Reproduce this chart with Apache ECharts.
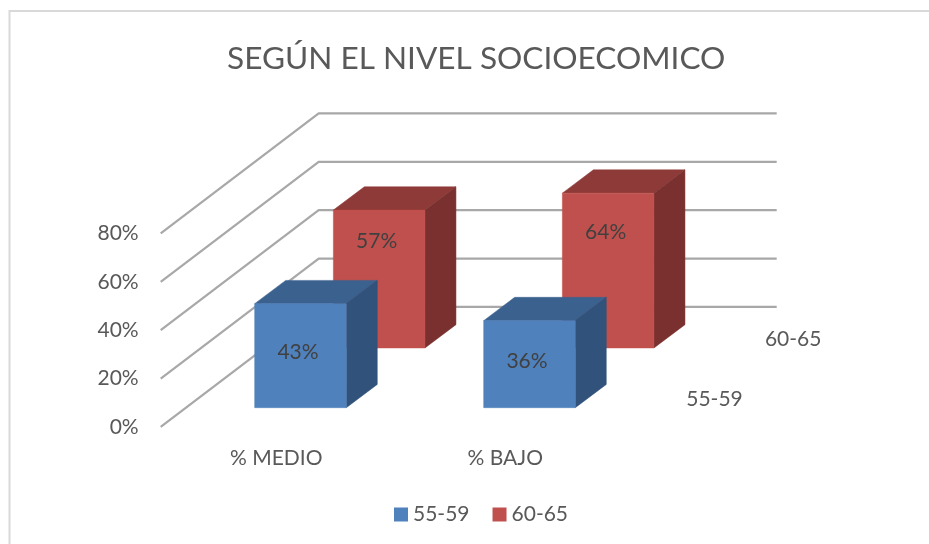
<!DOCTYPE html>
<html>
<head>
<meta charset="utf-8">
<style>html,body{margin:0;padding:0;background:#fff}#c{width:929px;height:544px}</style>
<script src="https://cdn.jsdelivr.net/npm/echarts@6/dist/echarts.min.js"></script>
</head>
<body>
<div id="c"></div>
<script>
const categories = ['% MEDIO', '% BAJO'];
const seriesNames = ['55-59', '60-65'];
const values5559 = [43, 36];
const values6065 = [57, 64];
const yTicks = [0, 20, 40, 60, 80];

const FONT = 'Lato, "Open Sans", sans-serif';
const TEXT = '#595959';
const WALL = { dx: 158, dy: -120 };           // projection of the full depth axis
const BAR_DEPTH = { dx: 31, dy: -23.3 };
const BAR_BAND = 0.4;
const PALETTE = [
  { front: '#4F81BD', top: '#3B618F', side: '#31527A' },
  { front: '#C0504D', top: '#8E3A38', side: '#7A302E' }
];
const ROW = [0.16, 0.658];       // position along depth axis
const LABEL_LIFT = [3, 38];
const DEPTH_LABEL_SHIFT = [-8, -9];

function poly(points, fill) {
  return { type: 'polygon', shape: { points }, style: { fill, stroke: fill, lineWidth: 0.5 } };
}

function barRenderer(row) {
  return function (params, api) {
    const value = api.value(1);
    const base = api.coord([api.value(0), 0]);
    const head = api.coord([api.value(0), value]);
    const w = api.size([1, 0])[0] * BAR_BAND;
    const ox = ROW[row] * WALL.dx, oy = ROW[row] * WALL.dy;
    const x0 = base[0] + ox - w / 2, x1 = x0 + w;
    const y0 = base[1] + oy, y1 = head[1] + oy;
    const d = BAR_DEPTH, c = PALETTE[row];
    return {
      type: 'group',
      children: [
        poly([[x0, y1], [x1, y1], [x1 + d.dx, y1 + d.dy], [x0 + d.dx, y1 + d.dy]], c.top),
        poly([[x1, y1], [x1 + d.dx, y1 + d.dy], [x1 + d.dx, y0 + d.dy], [x1, y0]], c.side),
        poly([[x0, y1], [x1, y1], [x1, y0], [x0, y0]], c.front),
        {
          type: 'text',
          style: {
            x: (x0 + x1) / 2 - 2.5, y: (y0 + y1) / 2 - LABEL_LIFT[row],
            text: value + '%', align: 'center', verticalAlign: 'middle',
            fill: '#404040', font: '21px ' + FONT
          }
        }
      ]
    };
  };
}

function wallRenderer(params, api) {
  const y = api.coord([0, api.value(1)])[1];
  const cs = params.coordSys;
  return {
    type: 'polyline',
    shape: { points: [[cs.x, y], [cs.x + WALL.dx, y + WALL.dy], [cs.x + cs.width + WALL.dx, y + WALL.dy]] },
    style: { stroke: '#A8A8A8', lineWidth: 2.2, fill: 'none' }
  };
}

function depthLabelRenderer(params, api) {
  const i = params.dataIndex;
  const cs = params.coordSys;
  const frac = ROW[i];
  return {
    type: 'text',
    style: {
      x: cs.x + cs.width + frac * WALL.dx + 70.5,
      y: cs.y + cs.height + frac * WALL.dy + DEPTH_LABEL_SHIFT[i],
      text: seriesNames[i], align: 'center', verticalAlign: 'middle',
      fill: TEXT, font: '21px ' + FONT
    }
  };
}

const chart = echarts.init(document.getElementById('c'), null, { renderer: 'canvas' });
chart.setOption({
  animation: false,
  backgroundColor: '#fff',
  title: {
    text: 'SEGÚN EL NIVEL SOCIOECOMICO',
    left: 222, top: 38,
    textStyle: { fontFamily: FONT, fontSize: 31.6, fontWeight: 'normal', color: TEXT }
  },
  legend: {
    data: seriesNames, left: 389, top: 499, icon: 'rect',
    itemWidth: 14, itemHeight: 14, itemGap: 23,
    textStyle: { fontFamily: FONT, fontSize: 21, color: TEXT },
    selectedMode: false
  },
  grid: { left: 160.7, top: 233.4, width: 458, height: 193.5, containLabel: false },
  xAxis: {
    type: 'category', data: categories,
    axisLine: { show: false }, axisTick: { show: false }, splitLine: { show: false },
    axisLabel: { interval: 0, margin: 21, padding: [0, 0, 0, 2], fontFamily: FONT, fontSize: 21, color: TEXT }
  },
  yAxis: {
    type: 'value', min: 0, max: 80, interval: 20,
    axisLine: { show: false }, axisTick: { show: false }, splitLine: { show: false },
    axisLabel: { formatter: '{value}%', margin: 22, padding: [6, 0, 0, 0], fontFamily: FONT, fontSize: 21, color: TEXT }
  },
  graphic: [{
    type: 'polyline', silent: true,
    shape: { points: [[9.5, 560], [9.5, 11], [940, 11]] },
    style: { stroke: '#D9D9D9', lineWidth: 2, fill: 'none' }
  }],
  series: [
    {
      type: 'custom', name: 'walls', z: 1, silent: true,
      renderItem: wallRenderer,
      data: yTicks.map(v => [0, v]), encode: { x: 0, y: 1 }
    },
    {
      type: 'custom', name: 'depthLabels', z: 1, silent: true,
      renderItem: depthLabelRenderer,
      data: seriesNames.map(() => [0, 0]), encode: { x: 0, y: 1 }
    },
    {
      type: 'custom', name: seriesNames[1], z: 2, silent: true,
      itemStyle: { color: PALETTE[1].front },
      renderItem: barRenderer(1),
      data: values6065.map((v, i) => [i, v]), encode: { x: 0, y: 1 }
    },
    {
      type: 'custom', name: seriesNames[0], z: 3, silent: true,
      itemStyle: { color: PALETTE[0].front },
      renderItem: barRenderer(0),
      data: values5559.map((v, i) => [i, v]), encode: { x: 0, y: 1 }
    }
  ]
});
</script>
</body>
</html>
